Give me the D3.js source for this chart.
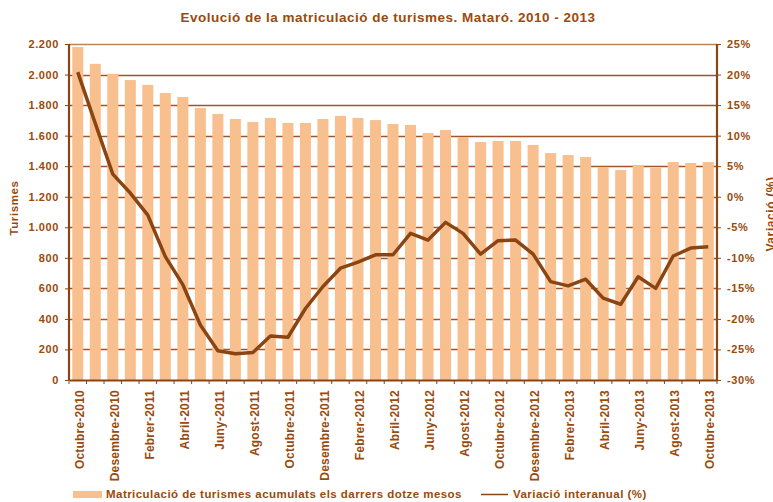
<!doctype html>
<html lang="ca">
<head>
<meta charset="UTF-8">
<title>Matriculació de turismes. Mataró</title>
<script src="https://cdnjs.cloudflare.com/ajax/libs/d3/7.8.5/d3.min.js"></script>
<style>
    body { margin: 0; background: #fff; }
    text { font-family: Arial, "Liberation Sans", sans-serif; font-weight: bold; fill: #9A4A0C; }
</style>
</head>
<body>
<svg id="chart" width="773" height="502"></svg>
<script>

    // data
    var months = ['Octubre', 'Novembre', 'Desembre', 'Gener', 'Febrer', 'Març', 'Abril', 'Maig',
        'Juny', 'Juliol', 'Agost', 'Setembre'];

    var categories = [];
    for (var i = 0; i < 37; i++) {
        var m = i % 12;
        var yr = 2010 + Math.floor((i + 9) / 12);
        categories.push(months[m] + '-' + yr);
    }

    var turismes = [2180, 2070, 2005, 1964, 1932, 1879, 1853, 1781, 1742, 1709, 1689, 1716, 1683,
        1683, 1709, 1729, 1716, 1702, 1676, 1670, 1617, 1637, 1591, 1558, 1565, 1565, 1539,
        1486, 1473, 1460, 1395, 1375, 1408, 1388, 1427, 1421, 1427];

    var variacio = [20.4, 12.0, 3.7, 0.6, -3.0, -9.8, -14.4, -21.0, -25.2, -25.7, -25.5, -22.8, -23.0,
        -18.3, -14.7, -11.7, -10.7, -9.5, -9.5, -6.0, -7.1, -4.2, -6.0, -9.4, -7.2, -7.1, -9.4,
        -13.9, -14.6, -13.5, -16.6, -17.6, -13.1, -15.0, -9.7, -8.4, -8.2];

    var leftTicks = [0, 200, 400, 600, 800, 1000, 1200, 1400, 1600, 1800, 2000, 2200];
    var rightTicks = [-30, -25, -20, -15, -10, -5, 0, 5, 10, 15, 20, 25];

    var brown = '#8B4513';
    var peach = '#F9C08F';

    var pLeft = 69, pRight = 717, pTop = 44, pBottom = 380;

    var svg = d3.select('#chart');

    var x = d3.scaleBand()
        .domain(categories)
        .range([pLeft, pRight])
        .paddingInner(0.37)
        .paddingOuter(0.185);

    var yL = d3.scaleLinear().domain([0, 2200]).range([pBottom, pTop]);
    var yR = d3.scaleLinear().domain([-30, 25]).range([pBottom, pTop]);

    var fmt = d3.formatLocale({decimal: ',', thousands: '.', grouping: [3], currency: ['', '']}).format(',');

    // grid
    svg.append('g')
        .selectAll('line')
        .data(leftTicks.slice(1))
        .enter().append('line')
        .attr('x1', pLeft).attr('x2', pRight)
        .attr('y1', function (d) { return Math.round(yL(d)) + 0.5; })
        .attr('y2', function (d) { return Math.round(yL(d)) + 0.5; })
        .attr('stroke', function (d) { return d === 2200 ? '#B8865E' : '#A0562A'; })
        .attr('stroke-width', 1.3);

    // bars
    svg.append('g')
        .selectAll('rect')
        .data(turismes)
        .enter().append('rect')
        .attr('x', function (d, i) { return x(categories[i]); })
        .attr('y', function (d) { return yL(d); })
        .attr('width', x.bandwidth())
        .attr('height', function (d) { return pBottom - yL(d); })
        .attr('fill', peach);

    // line
    var line = d3.line()
        .x(function (d, i) { return x(categories[i]) + x.bandwidth() / 2; })
        .y(function (d) { return yR(d); });

    svg.append('path')
        .datum(variacio)
        .attr('d', line)
        .attr('fill', 'none')
        .attr('stroke', brown)
        .attr('stroke-width', 3.5)
        .attr('stroke-linejoin', 'round');

    // axes
    var axL = svg.append('g')
        .attr('transform', 'translate(' + pLeft + ',0)')
        .call(d3.axisLeft(yL).tickValues(leftTicks).tickSize(4).tickPadding(6)
            .tickFormat(function (d) { return fmt(d); }));

    var axR = svg.append('g')
        .attr('transform', 'translate(' + pRight + ',0)')
        .call(d3.axisRight(yR).tickValues(rightTicks).tickSize(4).tickPadding(6)
            .tickFormat(function (d) { return d + '%'; }));

    var axB = svg.append('g')
        .attr('transform', 'translate(0,' + pBottom + ')')
        .call(d3.axisBottom(x).tickSize(0).tickFormat(function (d, i) { return i % 2 === 0 ? d : ''; }));

    // band boundary ticks
    svg.append('g')
        .selectAll('line')
        .data(d3.range(38))
        .enter().append('line')
        .attr('x1', function (d) { return pLeft + d * (pRight - pLeft) / 37; })
        .attr('x2', function (d) { return pLeft + d * (pRight - pLeft) / 37; })
        .attr('y1', pBottom).attr('y2', pBottom + 4)
        .attr('stroke', brown).attr('stroke-width', 1);

    [axL, axR, axB].forEach(function (a) {
        a.select('.domain').attr('stroke', brown).attr('stroke-width', 2.2);
        a.selectAll('.tick line').attr('stroke', brown);
        a.selectAll('text').attr('fill', '#9A4A0C').style('font-size', '11px').style('font-weight', 'bold')
            .style('letter-spacing', '0.6px')
            .style('font-family', 'Arial, "Liberation Sans", sans-serif');
    });
    axL.select('.domain').attr('d', 'M0,' + pTop + 'V' + pBottom);
    axR.select('.domain').attr('d', 'M0,' + pTop + 'V' + pBottom);

    axB.selectAll('text')
        .attr('transform', 'rotate(-90)')
        .attr('x', -10).attr('y', 1).attr('dy', '0.4em')
        .style('font-size', '12px')
        .style('letter-spacing', '0.2px')
        .style('text-anchor', 'end');

    // titles
    svg.append('text')
        .attr('x', 388).attr('y', 22)
        .attr('text-anchor', 'middle')
        .style('font-size', '13.5px')
        .style('letter-spacing', '0.5px')
        .text('Evolució de la matriculació de turismes. Mataró. 2010 - 2013');

    svg.append('text')
        .attr('transform', 'translate(18,' + 208 + ') rotate(-90)')
        .attr('text-anchor', 'middle')
        .style('font-size', '11.5px')
        .style('letter-spacing', '0.6px')
        .text('Turismes');

    svg.append('text')
        .attr('transform', 'translate(775,' + 214 + ') rotate(-90)')
        .attr('text-anchor', 'middle')
        .style('font-size', '12px')
        .style('letter-spacing', '0.6px')
        .text('Variació (%)');

    // legend
    var lg = svg.append('g');
    lg.append('rect').attr('x', 73).attr('y', 491).attr('width', 29).attr('height', 7).attr('fill', peach);
    lg.append('text').attr('x', 106).attr('y', 498).style('font-size', '11.5px')
        .style('letter-spacing', '0.45px')
        .text('Matriculació de turismes acumulats els darrers dotze mesos');
    lg.append('line').attr('x1', 481).attr('x2', 508).attr('y1', 494.5).attr('y2', 494.5)
        .attr('stroke', brown).attr('stroke-width', 1.5);
    lg.append('text').attr('x', 513).attr('y', 498).style('font-size', '11.5px')
        .style('letter-spacing', '0.45px')
        .text('Variació interanual (%)');

</script>
</body>
</html>
